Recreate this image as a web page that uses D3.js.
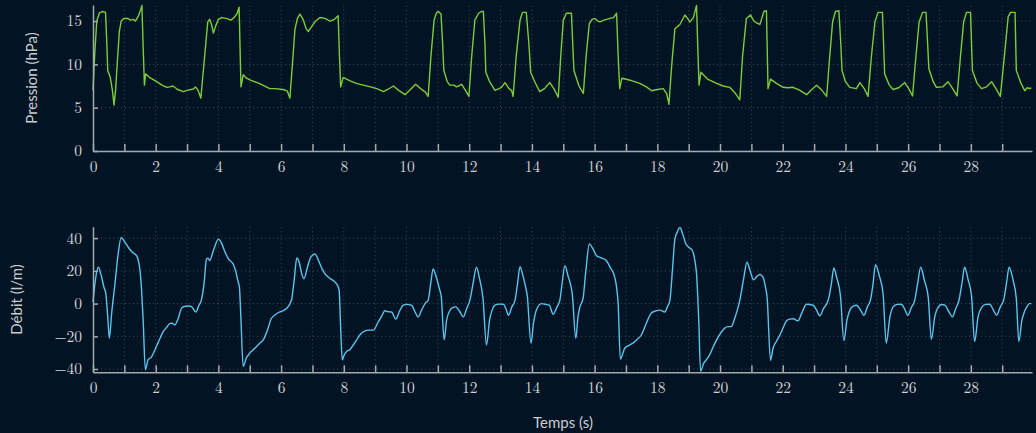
<!DOCTYPE html>
<html>
<head>
<meta charset="utf-8">
<script src="https://cdn.jsdelivr.net/npm/d3@7"></script>
<style>
html, body { margin: 0; padding: 0; background: #021424; }
#chart { width: 1036px; height: 433px; }
</style>
</head>
<body>
<div id="chart"></div>
<script>
"use strict";
var w = 1036;
var h = 433;

// pressure curve (time in s, pressure in hPa)
var pressureT = [0,0.06,0.12,0.2,0.3,0.4,0.44,0.47,0.55,0.62,0.67,0.72,0.78,0.84,0.9,0.98,1.1,1.2,1.28,1.35,1.45,1.52,1.56,1.6,1.64,1.68,1.8,2.03,2.2,2.35,2.45,2.55,2.7,2.88,3.0,3.2,3.27,3.35,3.44,3.55,3.66,3.72,3.78,3.84,3.92,4.0,4.1,4.25,4.4,4.5,4.6,4.66,4.69,4.72,4.79,4.9,5.0,5.3,5.64,5.8,6.07,6.2,6.28,6.36,6.44,6.52,6.6,6.7,6.8,6.87,7.0,7.1,7.24,7.4,7.56,7.7,7.82,7.86,7.9,7.98,8.2,8.4,8.62,8.85,9.05,9.26,9.4,9.58,9.75,9.95,10.1,10.29,10.45,10.6,10.69,10.78,10.88,10.95,11.01,11.1,11.15,11.19,11.3,11.38,11.5,11.6,11.76,11.88,11.99,12.08,12.18,12.3,12.39,12.45,12.5,12.53,12.65,12.82,12.95,13.03,13.14,13.27,13.35,13.4,13.5,13.62,13.7,13.82,13.9,13.96,14.1,14.25,14.4,14.57,14.7,14.84,14.92,15.0,15.1,15.26,15.3,15.34,15.5,15.64,15.73,15.83,15.92,16.01,16.1,16.17,16.3,16.49,16.6,16.7,16.75,16.8,16.87,17.1,17.44,17.65,17.82,18.0,18.19,18.3,18.37,18.46,18.56,18.72,18.88,19.04,19.15,19.25,19.29,19.33,19.39,19.6,19.89,20.1,20.31,20.5,20.63,20.72,20.84,20.97,21.08,21.16,21.27,21.4,21.48,21.53,21.61,21.8,22.01,22.15,22.33,22.55,22.76,22.9,23.08,23.25,23.4,23.5,23.59,23.68,23.79,23.85,23.89,24.0,24.14,24.35,24.46,24.6,24.72,24.83,24.94,25.04,25.18,25.22,25.25,25.4,25.52,25.7,25.89,26.02,26.14,26.25,26.35,26.46,26.57,26.62,26.66,26.8,26.9,27.1,27.27,27.42,27.56,27.67,27.77,27.86,27.99,28.02,28.05,28.2,28.34,28.5,28.66,28.8,28.94,29.07,29.19,29.27,29.41,29.43,29.45,29.6,29.72,29.8,29.88,29.93];
var pressureP = [7.0,11.5,15.0,15.9,16.1,16.0,12.5,9.3,8.5,7.0,5.3,7.0,10.5,13.8,15.0,15.3,15.3,15.1,15.2,15.0,15.6,16.3,16.8,12,7.6,8.9,8.5,8.0,7.6,7.35,7.4,7.5,7.1,6.85,7.0,7.15,7.4,7.0,6.1,10.5,14.9,15.2,14.6,13.6,14.5,15.2,15.4,15.3,15.1,15.4,15.9,16.6,12,7.4,8.8,8.4,8.2,7.8,7.2,7.2,7.1,6.9,6.1,10,14.0,15.3,15.8,15.2,14.1,13.8,14.5,15.0,15.4,15.3,15.0,15.2,15.6,11,7.4,8.5,8.1,7.8,7.6,7.4,7.2,6.85,7.1,7.5,7.0,6.5,7.0,7.7,7.2,6.8,6.3,11,15.1,15.9,16.1,15.8,12.5,9.3,8.0,7.6,7.6,7.4,7.7,7.0,6.3,11,15.1,15.9,16.1,16.1,12.5,9.1,8.0,7.0,7.2,7.35,7.9,7.2,7.0,6.3,11,15.1,16.0,16.0,12.5,9.1,7.9,6.85,7.2,7.9,7.2,6.2,11,15.1,15.9,15.9,12.5,9.3,7.5,6.65,11,14.7,15.2,15.3,15.0,14.9,15.1,15.3,15.4,15.9,11,7.2,8.4,8.2,7.8,7.4,6.95,7.1,7.2,6.6,5.4,10,14.1,14.6,15.7,14.9,15.4,16.8,12,7.6,9.1,8.3,7.8,7.5,7.35,6.6,5.9,11,15.3,15.7,15.0,14.8,14.6,16.1,16.2,7.2,8.3,7.8,7.35,7.3,7.35,7.0,6.5,7.0,7.6,7.0,6.3,11,14.9,16.1,16.2,12.5,9.3,8.0,7.35,7.2,7.9,7.2,6.3,11,14.9,16.0,16.0,12,8.9,7.6,7.1,7.3,7.9,7.2,6.35,11,14.9,16.0,16.0,12.5,9.5,8.0,7.35,7.4,8.0,7.2,6.35,11,14.9,16.0,16.0,12.5,9.3,7.8,7.2,7.4,8.0,7.2,6.3,11,15.5,16.0,16.0,12.5,9.3,7.8,6.95,7.3,7.2,7.3];

// flow curve (time in s, flow in l/m)
var flowT = [0,0.08,0.17,0.25,0.35,0.41,0.47,0.52,0.6,0.7,0.8,0.9,1.0,1.13,1.25,1.39,1.45,1.5,1.55,1.6,1.67,1.76,1.85,2.02,2.12,2.24,2.35,2.46,2.53,2.6,2.7,2.84,2.95,3.05,3.15,3.28,3.38,3.46,3.54,3.62,3.67,3.72,3.85,4.0,4.1,4.2,4.32,4.47,4.55,4.62,4.67,4.72,4.79,4.89,5.0,5.15,5.32,5.43,5.55,5.69,5.8,5.96,6.05,6.17,6.33,6.42,6.5,6.58,6.66,6.73,6.85,6.95,7.08,7.2,7.3,7.4,7.55,7.72,7.8,7.85,7.9,7.95,8.02,8.09,8.2,8.3,8.4,8.51,8.6,8.78,8.94,9.1,9.2,9.31,9.42,9.52,9.66,9.78,9.9,10.0,10.16,10.27,10.37,10.48,10.59,10.69,10.77,10.85,10.92,11.05,11.11,11.2,11.28,11.38,11.47,11.57,11.7,11.81,11.92,12.02,12.12,12.23,12.32,12.44,12.55,12.65,12.73,12.82,12.95,13.09,13.17,13.25,13.36,13.46,13.54,13.62,13.7,13.8,13.85,13.97,14.05,14.14,14.3,14.45,14.55,14.68,14.8,14.89,14.96,15.05,15.15,15.29,15.4,15.47,15.53,15.63,15.72,15.83,15.93,16.06,16.2,16.37,16.5,16.64,16.7,16.75,16.82,16.96,17.1,17.22,17.35,17.49,17.65,17.81,17.95,18.08,18.24,18.32,18.4,18.48,18.56,18.64,18.72,18.8,18.91,19.0,19.12,19.2,19.25,19.32,19.38,19.48,19.58,19.67,19.78,19.89,20.05,20.15,20.26,20.36,20.45,20.55,20.63,20.75,20.86,20.96,21.07,21.17,21.27,21.37,21.45,21.5,21.61,21.69,21.8,21.91,22.02,22.12,22.22,22.33,22.49,22.6,22.76,22.97,23.08,23.18,23.3,23.45,23.55,23.63,23.72,23.84,23.95,24.05,24.14,24.25,24.35,24.47,24.59,24.7,24.8,24.88,24.96,25.08,25.2,25.3,25.42,25.52,25.65,25.78,25.88,25.99,26.1,26.21,26.3,26.4,26.52,26.64,26.74,26.85,26.95,27.07,27.17,27.3,27.41,27.52,27.62,27.72,27.8,27.92,28.02,28.12,28.23,28.34,28.47,28.6,28.72,28.82,28.94,29.05,29.14,29.22,29.35,29.45,29.53,29.63,29.72,29.8,29.86,29.93];
var flowQ = [1,15,22.2,18,10,6,-8,-21.2,-5,12,30,40.4,38,34.3,31.5,29.3,26,20.2,8,-10,-40.4,-34.3,-33,-26.3,-22,-17.2,-14.5,-12.1,-12,-13.1,-10,-2.4,-1.6,-1.5,-2,-5.1,-1,2.4,12,27.3,27.8,26.3,33,39.4,37,32,27.3,24.2,20,14,10.1,-10,-38.4,-33.3,-30.3,-27.5,-24.2,-22.2,-17,-9.1,-7,-5.1,-4.5,-3,2,15,27.9,25,18,15.2,23,28.5,30.3,26,21.5,18.2,15.5,13.1,11,8.1,-15,-34.3,-31,-29.3,-28,-25.3,-22.5,-19.2,-17.5,-16.2,-16.2,-11.1,-8,-4.4,-5,-5.1,-9.5,-4.5,-1,-0.5,-1,-5,-8.1,-4,0,2,12,21.2,18,9,4,-22.2,-10,-4.4,-2.5,-2,-5,-8.1,-3,2,12,22.2,16,3,-25.3,-10,-4,-1,-0.3,-0.4,-3,-7.1,-2,2,12,22.6,18,10,5,-24.2,-12,-4,0,-0.5,-1,-6.5,-2,2,12,23.2,17,5,-21.2,-8,-2,3,20,36.4,34,29.3,28,26.3,22,16.2,10,0,-33.9,-27.3,-25.5,-24.2,-22,-19.2,-12,-5.7,-4.5,-4,-5.1,-2,2,20,39.4,44,46.5,43,36.4,34.5,32.3,26,18.2,-10,-41.4,-36.4,-34,-31.3,-26.5,-22.2,-17.2,-15,-14.1,-14.1,-10,-4,2,15,25.3,20,14.5,16.5,17.8,16.2,10,4,-34.7,-27.3,-23,-19.2,-14.5,-10.5,-9.5,-9.3,-10.5,-6,-0.4,-1,-4,-7.5,-3,2,12,21.8,16,5,-22.6,-10,-4,-1.5,-1,-3.5,-7.1,-2,2.4,12,23.8,17,6,-24.2,-8,-2,-0.5,-0.4,-3,-7.1,-2.5,2,12,22.2,14,4,-21.8,-8,-2.4,-0.6,-1,-5,-8.1,-3,2,13,22.2,14,5,-23.2,-8,-2.4,-0.5,-0.4,-4,-7.1,-2,2.4,13,22.2,14,3,-23.2,-10,-4.4,-1.5,0,0];

var timeTicks = d3.range(0, 30);
var pressureTicks = [0, 5, 10, 15];
var flowTicks = [-40, -20, 0, 20, 40];

function init() {
    apply();
};
window.onload = init;

function fmtNum(v) {
    return v < 0 ? "\u2212" + Math.abs(v) : String(v);
}

function drawPanel(svg, opt) {
    var g = svg.append("g");
    var x = opt.x, y = opt.y;

    // dotted grid
    g.append("g").selectAll("line").data(timeTicks.slice(1))
        .enter().append("line")
        .attr("x1", function(d){ return x(d); })
        .attr("x2", function(d){ return x(d); })
        .attr("y1", y.range()[0])
        .attr("y2", y.range()[1])
        .attr("stroke", "#3a4b5c")
        .attr("stroke-width", 1)
        .attr("stroke-dasharray", "1,3");
    g.append("g").selectAll("line").data(opt.yTicks)
        .enter().append("line")
        .attr("x1", x.range()[0])
        .attr("x2", x.range()[1])
        .attr("y1", function(d){ return y(d); })
        .attr("y2", function(d){ return y(d); })
        .attr("stroke", "#3a4b5c")
        .attr("stroke-width", 1)
        .attr("stroke-dasharray", "1,3");

    // the curve
    var line = d3.line()
        .x(function(d){ return x(d[0]); })
        .y(function(d){ return y(d[1]); })
        .curve(opt.curve);
    g.append("path")
        .datum(opt.data)
        .attr("d", line)
        .attr("fill", "none")
        .attr("stroke", opt.color)
        .attr("stroke-width", 1.4)
        .attr("stroke-linejoin", "round");

    // axes
    var xAxis = d3.axisBottom(x)
        .tickValues(timeTicks)
        .tickSizeInner(-7)
        .tickSizeOuter(0)
        .tickPadding(10)
        .tickFormat(function(d){ return d % 2 === 0 ? d : ""; });
    var yAxis = d3.axisLeft(y)
        .tickValues(opt.yTicks)
        .tickSizeInner(-5)
        .tickSizeOuter(0)
        .tickPadding(11)
        .tickFormat(fmtNum);

    var gx = g.append("g")
        .attr("transform", "translate(0," + y.range()[0] + ")")
        .call(xAxis);
    var gy = g.append("g")
        .attr("transform", "translate(" + x.range()[0] + ",0)")
        .call(yAxis);
    [gx, gy].forEach(function(a){
        a.selectAll("path, line")
            .attr("stroke", "#a3a8ad")
            .attr("stroke-width", 1.5);
        a.selectAll("text")
            .attr("fill", "#d0d3d6")
            .style("font-family", "'Latin Modern Roman', 'Liberation Serif', serif")
            .style("font-size", "15.5px");
    });

    // y label
    g.append("text")
        .attr("transform", "translate(" + opt.labelX + "," + ((y.range()[0] + y.range()[1]) / 2) + ") rotate(-90)")
        .attr("text-anchor", "middle")
        .attr("dy", "0.35em")
        .attr("fill", "#c8ccd0")
        .style("font-family", "Lato, 'DejaVu Sans', sans-serif")
        .style("font-size", "15px")
        .text(opt.label);
}

function apply() {
    var svg = d3.select("#chart")
        .append("svg")
        .attr("width", w)
        .attr("height", h);

    var x = d3.scaleLinear().domain([0, 29.95]).range([93, 1032]);

    var yP = d3.scaleLinear().domain([0, 16.85]).range([151, 5]);
    var yF = d3.scaleLinear().domain([-42, 47]).range([372.3, 226.7]);

    drawPanel(svg, {
        x: x, y: yP, yTicks: pressureTicks,
        data: d3.zip(pressureT, pressureP),
        color: "#7ccc3a",
        curve: d3.curveLinear,
        label: "Pression (hPa)",
        labelX: 32
    });
    drawPanel(svg, {
        x: x, y: yF, yTicks: flowTicks,
        data: d3.zip(flowT, flowQ),
        color: "#5cc3ec",
        curve: d3.curveMonotoneX,
        label: "Débit (l/m)",
        labelX: 17
    });

    svg.append("text")
        .attr("x", 563)
        .attr("y", 423)
        .attr("text-anchor", "middle")
        .attr("dy", "0.35em")
        .attr("fill", "#c8ccd0")
        .style("font-family", "Lato, 'DejaVu Sans', sans-serif")
        .style("font-size", "15px")
        .text("Temps (s)");
};
</script>
</body>
</html>
